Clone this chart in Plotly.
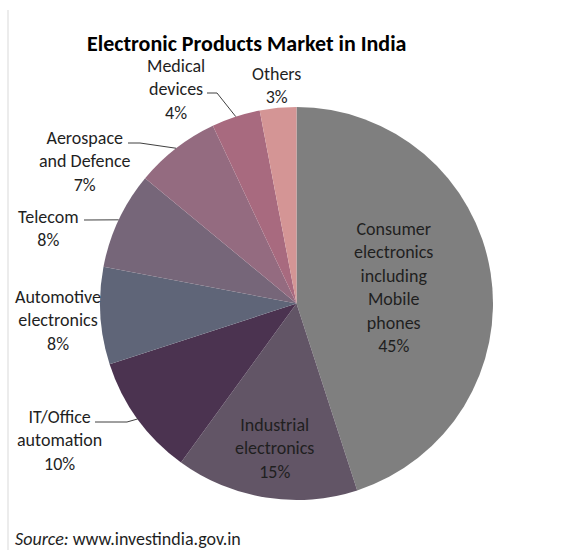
import math
import plotly.graph_objects as go

# ---- data ----
categories = ["Consumer electronics including Mobile phones", "Industrial electronics",
              "IT/Office automation", "Automotive electronics", "Telecom",
              "Aerospace and Defence", "Medical devices", "Others"]
label_text = ["Consumer<br>electronics<br>including<br>Mobile<br>phones", "Industrial<br>electronics",
              "IT/Office<br>automation", "Automotive<br>electronics", "Telecom",
              "Aerospace<br>and Defence", "Medical<br>devices", "Others"]
shares = [45, 15, 10, 8, 8, 7, 4, 3]
colors = ["#7f7f7f", "#625566", "#4b3350", "#5f6578", "#766679", "#946b80", "#a86a7f", "#d49595"]

title_text = "Electronic Products Market in India"
source_text = "<i>Source:</i> www.investindia.gov.in"

# ---- layout (pixels) ----
W, H = 579, 550
CX, CY, R = 296.5, 303.5, 196.5
label_xy = [(393.5, 287), (274, 448), (59.5, 440), (58, 320), (48.5, 228), (85, 161), (176, 89), (276, 85)]
leaders = {2: [(95, 422), (127, 422)], 4: [(84, 220)], 5: [(128, 143), (140, 143)], 6: [(207, 93), (217, 93)]}
FONT = "Carlito, Calibri, Lato, sans-serif"
TXT = "#1f1f1f"


def px(x, y):
    return x / W, 1 - y / H


fig = go.Figure(go.Pie(
    labels=categories, values=shares, sort=False, direction="clockwise", rotation=0,
    marker=dict(colors=colors, line=dict(color="rgba(255,255,255,0.15)", width=0)),
    textinfo="none", hoverinfo="label+percent", showlegend=False,
    domain=dict(x=[(CX - R) / W, (CX + R) / W], y=[1 - (CY + R) / H, 1 - (CY - R) / H]),
))

total = sum(shares)
annotations = []
shapes = []
cum = 0
for i, v in enumerate(shares):
    mid = (cum + v / 2) / total * 2 * math.pi
    cum += v
    lx, ly = label_xy[i]
    pct = f"{round(v / total * 100)}%"
    ax, ay = px(lx, ly)
    annotations.append(dict(x=ax, y=ay, xref="paper", yref="paper", xanchor="center", yanchor="middle",
                            text=f"{label_text[i]}<br>{pct}", showarrow=False, align="center",
                            font=dict(family=FONT, size=18, color=TXT)))
    if i in leaders:
        ex, ey = CX + R * math.sin(mid), CY - R * math.cos(mid)
        pts = leaders[i] + [(ex, ey)]
        path = "M " + " L ".join(f"{px(x, y)[0]},{px(x, y)[1]}" for x, y in pts)
        shapes.append(dict(type="path", path=path, xref="paper", yref="paper",
                           line=dict(color="#404040", width=1)))

tx, ty = px(246, 44)
annotations.append(dict(x=tx, y=ty, xref="paper", yref="paper", xanchor="center", yanchor="middle",
                        text=f"<b>{title_text}</b>", showarrow=False,
                        font=dict(family=FONT, size=22, color="#000000")))
sx, sy = px(13, 539)
annotations.append(dict(x=sx, y=sy, xref="paper", yref="paper", xanchor="left", yanchor="middle",
                        text=source_text, showarrow=False,
                        font=dict(family=FONT, size=18, color=TXT)))

bx0, by0 = px(8, 10)
bx1, by1 = px(8, 550)
shapes.append(dict(type="line", xref="paper", yref="paper", x0=bx0, y0=by0, x1=bx1, y1=by1,
                   line=dict(color="#d9d9d9", width=1)))

fig.update_layout(width=W, height=H, margin=dict(l=0, r=0, t=0, b=0),
                  paper_bgcolor="white", plot_bgcolor="white",
                  annotations=annotations, shapes=shapes)
fig.write_html("out.html")
